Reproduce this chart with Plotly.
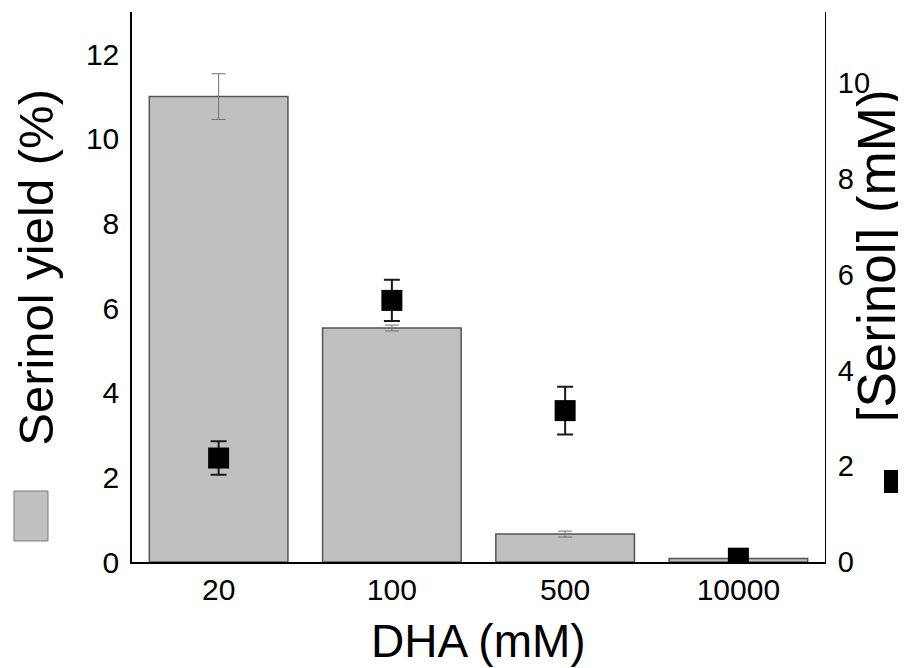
import plotly.graph_objects as go

categories = ["20", "100", "500", "10000"]
yield_pct = [11.0, 5.53, 0.66, 0.08]
yield_err = [0.54, 0.07, 0.07, 0.0]
serinol_mM = [2.17, 5.46, 3.16, 0.08]
serinol_err = [0.35, 0.43, 0.5, 0.0]
left_ticks = [0, 2, 4, 6, 8, 10, 12]
right_ticks = [0, 2, 4, 6, 8, 10]

FONT = "Liberation Sans, Arial, sans-serif"

fig = go.Figure()
fig.add_trace(go.Bar(
    x=categories, y=yield_pct,
    marker=dict(color="#c0c0c0", line=dict(color="#555555", width=1.5)),
    error_y=dict(type="data", array=yield_err, visible=True,
                 color="#707070", thickness=1, width=7),
    showlegend=False,
))
fig.add_trace(go.Scatter(
    x=categories, y=serinol_mM, yaxis="y2", mode="markers",
    marker=dict(symbol="square", size=21, color="black"),
    error_y=dict(type="data", array=serinol_err, visible=True,
                 color="#1a1a1a", thickness=2, width=8),
    showlegend=False,
))

fig.update_layout(
    width=898, height=660,
    margin=dict(l=124, r=81, t=4, b=106),
    paper_bgcolor="white", plot_bgcolor="white",
    bargap=0.2,
    font=dict(family=FONT, color="black"),
    xaxis=dict(
        type="category", showline=True, linecolor="black", linewidth=2,
        ticks="", showgrid=False, zeroline=False,
        tickfont=dict(size=30, family=FONT, color="black"),
    ),
    yaxis=dict(
        range=[0, 13.0], showline=True, linecolor="black", linewidth=1.5,
        ticks="", showgrid=False, zeroline=False,
        tickvals=left_ticks, ticktext=[str(v) for v in left_ticks],
        tickfont=dict(size=30, family=FONT, color="black"),
        ticklabelstandoff=5,
    ),
    yaxis2=dict(
        range=[0, 11.48], overlaying="y", side="right",
        showline=True, linecolor="black", linewidth=1,
        ticks="", showgrid=False, zeroline=False,
        tickvals=right_ticks, ticktext=[str(v) for v in right_ticks],
        tickfont=dict(size=29, family=FONT, color="black"),
        ticklabelstandoff=6,
    ),
    annotations=[
        dict(text="Serinol yield (%)", x=-0.1385, y=0.535, xref="paper", yref="paper",
             textangle=-90, showarrow=False, xanchor="center", yanchor="middle",
             font=dict(size=49, family=FONT, color="black")),
        dict(text="[Serinol] (mM)", x=1.0736, y=0.556, xref="paper", yref="paper",
             textangle=-90, showarrow=False, xanchor="center", yanchor="middle",
             font=dict(size=53, family=FONT, color="black")),
        dict(text="DHA (mM)", x=0.5, y=-0.1436, xref="paper", yref="paper",
             showarrow=False, xanchor="center", yanchor="middle",
             font=dict(size=46, family=FONT, color="black")),
    ],
    shapes=[
        dict(type="rect", xref="paper", yref="paper",
             x0=-0.1703, x1=-0.1212, y0=0.0382, y1=0.1291,
             fillcolor="#c0c0c0", line=dict(color="#7a7a7a", width=1)),
        dict(type="rect", xref="paper", yref="paper",
             x0=1.0851, x1=1.1169, y0=0.1255, y1=0.1673,
             fillcolor="black", line=dict(color="black", width=0)),
    ],
)

fig.write_html("out.html")
